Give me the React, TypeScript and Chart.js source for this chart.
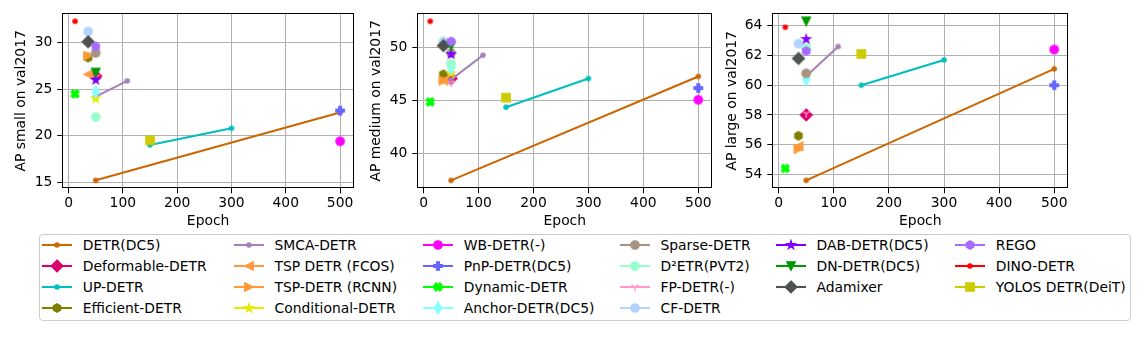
import React, { useEffect, useRef } from 'react';
import { Chart, registerables } from 'chart.js';

Chart.register(...registerables);

const FONT_FAMILY = "'DejaVu Sans', 'Liberation Sans', sans-serif";
const FONT_PX = 13.89;

// ---------------- data ----------------
const seriesNames = [
  'DETR(DC5)', 'Deformable-DETR', 'UP-DETR', 'Efficient-DETR', 'SMCA-DETR', 'TSP DETR (FCOS)',
  'TSP-DETR (RCNN)', 'Conditional-DETR', 'WB-DETR(-)', 'PnP-DETR(DC5)', 'Dynamic-DETR',
  'Anchor-DETR(DC5)', 'Sparse-DETR', 'D²ETR(PVT2)', 'FP-DETR(-)', 'CF-DETR', 'DAB-DETR(DC5)',
  'DN-DETR(DC5)', 'Adamixer', 'REGO', 'DINO-DETR', 'YOLOS DETR(DeiT)',
];

const seriesColors = [
  '#cc6600', '#d9006c', '#00bfbf', '#808000', '#a680b8', '#ff9a40', '#ff9933', '#e8e800',
  '#ff00ff', '#6666ff', '#00ff00', '#88ffff', '#a89484', '#99ffcc', '#ff99cc', '#b3d4ff',
  '#8000ff', '#009900', '#4f534f', '#a66cff', '#ff0000', '#cccc00',
];

const seriesMarkers = [
  '.', 'D', '.', 'h', '.', '<', '>', '*', 'o', 'P', 'X', 'd', 'o', 'o', '1', 'o', '*', 'v', 'D', 'h', '.', 's',
];

const seriesEpochs = [
  [50, 500], [50], [150, 300], [36], [50, 108], [36], [36], [50], [500], [500], [12],
  [50], [50], [50], [50], [36], [50], [50], [36], [50], [12], [150],
];

const apSmall = [
  [15.2, 22.5], [26.4], [19.0, 20.8], [28.4], [24.2, 25.9], [26.6], [28.6], [24.0], [19.4], [22.7], [24.5],
  [24.7], [28.9], [22.0], [26.3], [31.2], [26.0], [26.8], [30.1], [29.6], [32.3], [19.5],
];

const apMedium = [
  [37.5, 47.3], [47.1], [44.4, 47.1], [47.5], [47.0, 49.3], [46.9], [46.9], [47.6], [45.1], [46.2], [44.9],
  [48.1], [49.5], [48.5], [46.7], [50.6], [49.4], [50.2], [50.2], [50.6], [52.5], [45.3],
];

const apLarge = [
  [53.6, 61.1], [58.0], [60.0, 61.7], [56.6], [60.6, 62.6], [55.9], [55.7], [60.7], [62.4], [60.0], [54.4],
  [60.4], [60.8], [62.5], [58.1], [62.8], [63.1], [64.3], [61.8], [62.3], [63.9], [62.1],
];

const xTickValues = [0, 100, 200, 300, 400, 500];
const smallTickValues = [15, 20, 25, 30];
const mediumTickValues = [40, 45, 50];
const largeTickValues = [54, 56, 58, 60, 62, 64];

const xTitle = 'Epoch';
const yTitles = ['AP small on val2017', 'AP medium on val2017', 'AP large on val2017'];

// ---------------- styling / layout ----------------
const PT = 100 / 72;
const MS = 6 * PT;
const MEW = 1 * PT;
const LW = 1.5 * PT;

function drawMarker(ctx: CanvasRenderingContext2D, m: string, cx: number, cy: number, color: string) {
  const h = MS / 2;
  ctx.save();
  ctx.fillStyle = color;
  ctx.strokeStyle = color;
  ctx.lineWidth = MEW;
  ctx.lineJoin = 'miter';
  ctx.beginPath();
  const poly = (pts: number[][]) => {
    pts.forEach(([x, y], k) => (k === 0 ? ctx.moveTo(cx + x, cy + y) : ctx.lineTo(cx + x, cy + y)));
    ctx.closePath();
  };
  let strokeOnly = false;
  switch (m) {
    case '.':
      ctx.arc(cx, cy, h / 2, 0, Math.PI * 2);
      break;
    case 'o':
      ctx.arc(cx, cy, h, 0, Math.PI * 2);
      break;
    case 'D': {
      const r = h * Math.SQRT2;
      poly([[0, -r], [r, 0], [0, r], [-r, 0]]);
      break;
    }
    case 'd': {
      const r = h * Math.SQRT2;
      poly([[0, -r], [0.6 * r, 0], [0, r], [-0.6 * r, 0]]);
      break;
    }
    case 's':
      poly([[-h, -h], [h, -h], [h, h], [-h, h]]);
      break;
    case 'v':
      poly([[0, h], [-h, -h], [h, -h]]);
      break;
    case '<':
      poly([[-h, 0], [h, -h], [h, h]]);
      break;
    case '>':
      poly([[h, 0], [-h, h], [-h, -h]]);
      break;
    case '*': {
      const pts: number[][] = [];
      for (let k = 0; k < 10; k++) {
        const a = -Math.PI / 2 + (k * Math.PI) / 5;
        const r = k % 2 === 0 ? h : h * 0.381966;
        pts.push([r * Math.cos(a), r * Math.sin(a)]);
      }
      poly(pts);
      break;
    }
    case 'h': {
      const pts: number[][] = [];
      for (let k = 0; k < 6; k++) {
        const a = -Math.PI / 2 + (k * Math.PI) / 3;
        pts.push([h * Math.cos(a), h * Math.sin(a)]);
      }
      poly(pts);
      break;
    }
    case 'P':
    case 'X': {
      const u = h / 3;
      let pts = [[-1, -3], [1, -3], [1, -1], [3, -1], [3, 1], [1, 1], [1, 3], [-1, 3], [-1, 1], [-3, 1], [-3, -1], [-1, -1]]
        .map(([x, y]) => [x * u, y * u]);
      if (m === 'X') {
        const c = Math.SQRT1_2;
        pts = pts.map(([x, y]) => [c * (x - y), c * (x + y)]);
      }
      poly(pts);
      break;
    }
    case '1': {
      strokeOnly = true;
      const s = (h * Math.sqrt(3)) / 2;
      ctx.moveTo(cx, cy);
      ctx.lineTo(cx, cy + h);
      ctx.moveTo(cx, cy);
      ctx.lineTo(cx - s, cy - h / 2);
      ctx.moveTo(cx, cy);
      ctx.lineTo(cx + s, cy - h / 2);
      break;
    }
    default:
      break;
  }
  if (!strokeOnly) ctx.fill();
  ctx.stroke();
  ctx.restore();
}

function markerCanvas(m: string, color: string) {
  const c = document.createElement('canvas');
  c.width = 24;
  c.height = 24;
  const ctx = c.getContext('2d');
  if (ctx) drawMarker(ctx, m, 12, 12, color);
  return c;
}

const panels = [
  { values: apSmall, ticks: smallTickValues, min: 14.345, max: 33.155, title: yTitles[0], left: 0, width: 360, yW: 62.3, padR: 1.3, titlePad: 12.7 },
  { values: apMedium, ticks: mediumTickValues, min: 36.75, max: 53.25, title: yTitles[1], left: 360, width: 360, yW: 57.3, padR: 7.7, titlePad: 8 },
  { values: apLarge, ticks: largeTickValues, min: 53.065, max: 64.835, title: yTitles[2], left: 720, width: 422, yW: 52.3, padR: 73.7, titlePad: 3.7 },
];

const CANVAS_H = 230;
const AX_TOP = 13.3;
const AX_BOTTOM = 188.3;
const X_MIN = -11.5;
const X_MAX = 525.5;

const framePlugin = {
  id: 'frame',
  afterDatasetsDraw(chart: any) {
    const { ctx, chartArea: a } = chart;
    ctx.save();
    ctx.strokeStyle = '#000';
    ctx.lineWidth = 1;
    const l = Math.round(a.left) + 0.5;
    const t = Math.round(a.top) + 0.5;
    const r = Math.round(a.right) - 0.5;
    const b = Math.round(a.bottom) - 0.5;
    ctx.strokeRect(l, t, r - l, b - t);
    ctx.restore();
  },
};

function buildConfig(p: typeof panels[number], markers: HTMLCanvasElement[]): any {
  const font = { family: FONT_FAMILY, size: FONT_PX };
  const datasets = seriesNames.map((name, i) => ({
    label: name,
    data: seriesEpochs[i].map((x, j) => ({ x, y: p.values[i][j] })),
    showLine: seriesEpochs[i].length > 1,
    borderColor: seriesColors[i],
    backgroundColor: seriesColors[i],
    borderWidth: LW,
    pointStyle: markers[i],
    pointRadius: 4,
    order: seriesNames.length - i,
  }));
  const grid = {
    color: '#b0b0b0',
    lineWidth: 1,
    drawTicks: true,
    tickLength: 5,
    tickColor: '#000',
    tickWidth: 1,
  };
  return {
    type: 'scatter',
    data: { datasets },
    plugins: [framePlugin],
    options: {
      animation: false,
      responsive: false,
      maintainAspectRatio: false,
      devicePixelRatio: 1,
      events: [],
      layout: { padding: { left: 0, right: p.padR, top: AX_TOP, bottom: 0 } },
      plugins: { legend: { display: false }, tooltip: { enabled: false } },
      scales: {
        x: {
          type: 'linear',
          min: X_MIN,
          max: X_MAX,
          afterBuildTicks: (s: any) => {
            s.ticks = xTickValues.map((v) => ({ value: v }));
          },
          afterFit: (s: any) => {
            s.height = CANVAS_H - AX_BOTTOM;
          },
          grid,
          border: { display: false },
          ticks: { color: '#000', font, padding: 2, maxRotation: 0, autoSkip: false },
          title: { display: true, text: xTitle, color: '#000', font, padding: { top: 0, bottom: 0 } },
        },
        y: {
          type: 'linear',
          min: p.min,
          max: p.max,
          afterBuildTicks: (s: any) => {
            s.ticks = p.ticks.map((v) => ({ value: v }));
          },
          afterFit: (s: any) => {
            s.width = p.yW;
          },
          grid,
          border: { display: false },
          ticks: { color: '#000', font, padding: 5, autoSkip: false },
          title: { display: true, text: p.title, color: '#000', font, padding: { top: p.titlePad, bottom: 0 } },
        },
      },
    },
  };
}

// ---------------- legend ----------------
const legendColX = [42.3, 234, 423.3, 620, 776, 955.3];
const legendColCounts = [4, 4, 4, 4, 3, 3];
const LEGEND_ROW0 = 245.3;
const LEGEND_ROW_STEP = 21;

function LegendHandle({ color, marker, left, top }: { color: string; marker: string; left: number; top: number }) {
  const ref = useRef<HTMLCanvasElement>(null);
  useEffect(() => {
    const c = ref.current;
    if (!c) return;
    const ctx = c.getContext('2d');
    if (!ctx) return;
    ctx.clearRect(0, 0, c.width, c.height);
    ctx.strokeStyle = color;
    ctx.lineWidth = LW;
    ctx.beginPath();
    ctx.moveTo(1, 8);
    ctx.lineTo(31, 8);
    ctx.stroke();
    drawMarker(ctx, marker, 16, 8, color);
  }, [color, marker]);
  return <canvas ref={ref} width={32} height={16} style={{ position: 'absolute', left, top }} />;
}

function Legend() {
  const items: React.ReactNode[] = [];
  let idx = 0;
  legendColCounts.forEach((count, col) => {
    for (let r = 0; r < count; r++) {
      const i = idx++;
      const cy = LEGEND_ROW0 + r * LEGEND_ROW_STEP;
      const x = legendColX[col];
      items.push(
        <LegendHandle key={'h' + i} color={seriesColors[i]} marker={seriesMarkers[i]} left={x - 1} top={cy - 8} />,
      );
      items.push(
        <div
          key={'t' + i}
          style={{
            position: 'absolute',
            left: x + 40.5,
            top: cy - 10,
            height: 20,
            lineHeight: '20px',
            fontFamily: FONT_FAMILY,
            fontSize: FONT_PX,
            color: '#000',
            whiteSpace: 'nowrap',
          }}
        >
          {seriesNames[i]}
        </div>,
      );
    }
  });
  return (
    <>
      <div
        style={{
          position: 'absolute',
          left: 39,
          top: 233.5,
          width: 1092,
          height: 87,
          boxSizing: 'border-box',
          border: '1px solid #cccccc',
          borderRadius: 4,
          background: 'rgba(255,255,255,0.8)',
        }}
      />
      {items}
    </>
  );
}

export default function App() {
  const r0 = useRef<HTMLCanvasElement>(null);
  const r1 = useRef<HTMLCanvasElement>(null);
  const r2 = useRef<HTMLCanvasElement>(null);

  useEffect(() => {
    document.body.style.margin = '0';
    const markers = seriesMarkers.map((m, i) => markerCanvas(m, seriesColors[i]));
    const refs = [r0, r1, r2];
    const charts = panels.map((p, k) => {
      const el = refs[k].current as HTMLCanvasElement;
      return new Chart(el, buildConfig(p, markers));
    });
    return () => charts.forEach((c) => c.destroy());
  }, []);

  const refs = [r0, r1, r2];
  return (
    <div style={{ position: 'fixed', left: 0, top: 0, width: 1142, height: 338, background: '#fff', overflow: 'hidden' }}>
      {panels.map((p, k) => (
        <canvas
          key={k}
          ref={refs[k]}
          width={p.width}
          height={CANVAS_H}
          style={{ position: 'absolute', left: p.left, top: 0, width: p.width, height: CANVAS_H }}
        />
      ))}
      <Legend />
    </div>
  );
}
